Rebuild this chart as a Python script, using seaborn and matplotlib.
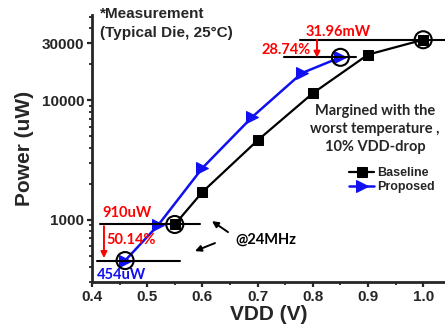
import numpy as np
import matplotlib
matplotlib.use('Agg')
import matplotlib.pyplot as plt
import matplotlib.ticker as mticker
import seaborn as sns

# ---- data ----
baseline_vdd = [0.55, 0.60, 0.70, 0.80, 0.90, 1.00]
baseline_pw = [910, 1700, 4600, 11400, 24000, 31960]

proposed_vdd = [0.46, 0.52, 0.60, 0.69, 0.78, 0.85]
proposed_pw = [454, 900, 2700, 7200, 16800, 22775]

# circled points (start / end of comparison)
circle_vdd = [0.46, 0.55, 0.85, 1.00]
circle_pw = [454, 910, 22775, 31960]

x_ticks = [0.4, 0.5, 0.6, 0.7, 0.8, 0.9, 1.0]
y_ticks = [1000, 10000, 30000]

sns.set_theme(style='ticks')
plt.rcParams['font.family'] = ['Liberation Sans', 'DejaVu Sans']
plt.rcParams['font.weight'] = 'bold'
plt.rcParams['axes.labelweight'] = 'bold'

fig = plt.figure(figsize=(4.45, 3.28), dpi=100)
ax = fig.add_axes([0.2067, 0.140, 0.7933, 0.814])

sns.lineplot(x=baseline_vdd, y=baseline_pw, ax=ax, color='black', marker='s',
             markersize=7, markeredgecolor='black', linewidth=1.6, label='Baseline')
sns.lineplot(x=proposed_vdd, y=proposed_pw, ax=ax, color='#1010f0', marker='>',
             markersize=9, markeredgecolor='#1010f0', linewidth=1.8, label='Proposed')

ax.scatter(circle_vdd, circle_pw, s=150, facecolors='none', edgecolors='black',
           linewidths=1.5, zorder=5)

ax.set_yscale('log')
ax.set_xlim(0.4, 1.0395)
ax.set_ylim(300, 51400)
ax.set_xticks(x_ticks)
ax.set_xticklabels([f'{v:.1f}' for v in x_ticks])
ax.xaxis.set_minor_locator(mticker.MultipleLocator(0.05))
ax.set_yticks(y_ticks)
ax.set_yticklabels([str(v) for v in y_ticks])
ax.yaxis.set_minor_locator(mticker.LogLocator(base=10, subs=np.arange(2, 10)))
ax.yaxis.set_minor_formatter(mticker.NullFormatter())

for side in ['top', 'right']:
    ax.spines[side].set_visible(False)
for side in ['left', 'bottom']:
    ax.spines[side].set_linewidth(2.0)
ax.tick_params(which='major', direction='out', length=3.5, width=1.6,
               labelsize=11, pad=2)
ax.tick_params(which='minor', direction='out', length=2, width=1.3)
for lab in ax.get_xticklabels() + ax.get_yticklabels():
    lab.set_fontweight('bold')

ax.set_xlabel('VDD (V)', fontsize=15, fontweight='bold', labelpad=1)
ax.set_ylabel('Power (uW)', fontsize=15, fontweight='bold', labelpad=6)

# comparison guide lines
ax.plot([0.777, 1.04], [31960, 31960], color='black', lw=1.5, clip_on=False)
ax.plot([0.748, 0.878], [22775, 22775], color='black', lw=1.5)
ax.plot([0.4145, 0.596], [910, 910], color='black', lw=1.5)
ax.plot([0.409, 0.559], [454, 454], color='black', lw=1.5)

# red reduction arrows
ax.annotate('', xy=(0.8076, 22600), xytext=(0.8076, 31960),
            arrowprops=dict(arrowstyle='-|>', color='red', lw=1.4,
                            mutation_scale=9, shrinkA=0, shrinkB=0))
ax.annotate('', xy=(0.4217, 476), xytext=(0.4217, 880),
            arrowprops=dict(arrowstyle='-|>', color='red', lw=1.4,
                            mutation_scale=9, shrinkA=0, shrinkB=0))

anno = dict(fontfamily=['Lato', 'DejaVu Sans'], fontweight='bold', fontsize=10.5,
            ha='center', va='center')
ax.text(0.8457, 37050, '31.96mW', color='red', **anno)
ax.text(0.7514, 26210, '28.74%', color='red', **anno)
ax.text(0.4634, 1133, '910uW', color='red', **anno)
ax.text(0.4707, 674, '50.14%', color='red', **anno)
ax.text(0.4543, 343, '454uW', color='#1010f0', **anno)
ax.text(0.715, 674, '@24MHz', color='black', **anno)

# @24MHz pointers
ax.annotate('', xy=(0.6174, 971), xytext=(0.6464, 786),
            arrowprops=dict(arrowstyle='-|>', color='black', lw=1.4,
                            mutation_scale=9, shrinkA=0, shrinkB=0))
ax.annotate('', xy=(0.5866, 545), xytext=(0.6228, 636),
            arrowprops=dict(arrowstyle='-|>', color='black', lw=1.4,
                            mutation_scale=9, shrinkA=0, shrinkB=0))

fig.text(100 / 445, 1 - 14 / 328, '*Measurement', fontsize=11, fontweight='bold',
         ha='left', va='center')
fig.text(100 / 445, 1 - 33 / 328, '(Typical Die, 25°C)', fontsize=11,
         fontweight='bold', ha='left', va='center')
fig.text(375 / 445, 1 - 129 / 328, 'Margined with the\nworst temperature ,\n10% VDD-drop',
         fontfamily=['Lato', 'DejaVu Sans'], fontweight='bold', fontsize=10.5,
         ha='center', va='center', linespacing=1.35)

leg = ax.legend(loc='center', bbox_to_anchor=(392 / 445, 1 - 180 / 328),
                bbox_transform=fig.transFigure, frameon=False, fontsize=9,
                handlelength=2.0, handletextpad=0.2, labelspacing=0.15,
                borderpad=0)
for t in leg.get_texts():
    t.set_fontweight('bold')

plt.savefig('out.png', dpi=100)
